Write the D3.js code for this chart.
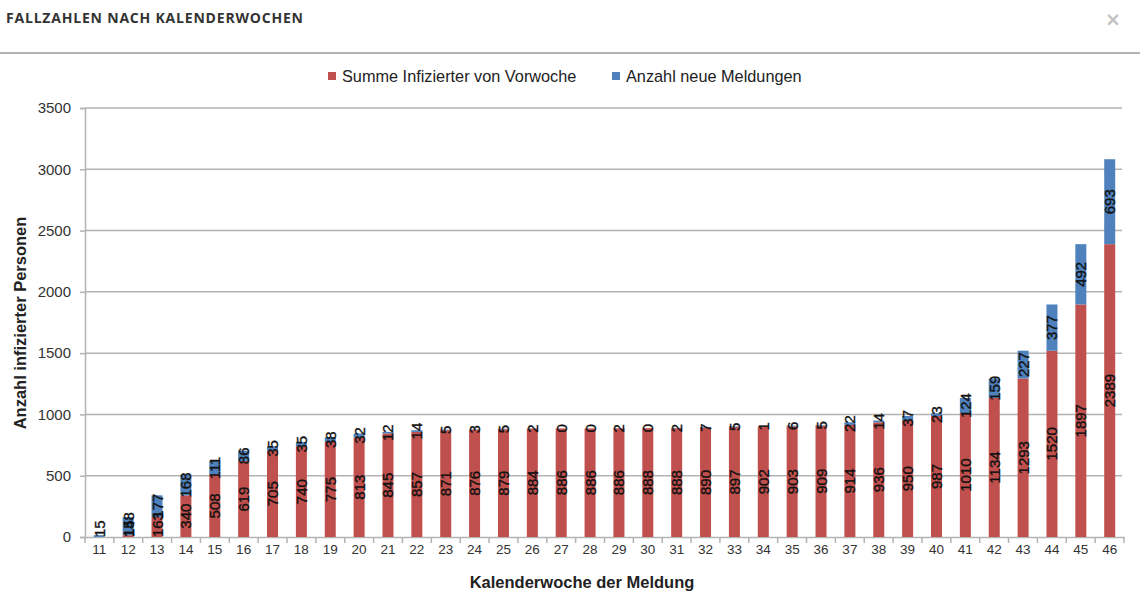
<!DOCTYPE html>
<html><head><meta charset="utf-8">
<script src="https://cdn.jsdelivr.net/npm/d3@7"></script>
<style>
html,body{margin:0;padding:0;background:#fff;}
svg{display:block;}
</style></head>
<body>
<svg id="chart" width="1140" height="611"></svg>
<script>
const weeks = ["11","12","13","14","15","16","17","18","19","20","21","22","23","24","25","26","27","28","29","30","31","32","33","34","35","36","37","38","39","40","41","42","43","44","45","46"];
const prevWeekSum = [0,15,163,340,508,619,705,740,775,813,845,857,871,876,879,884,886,886,886,888,888,890,897,902,903,909,914,936,950,987,1010,1134,1293,1520,1897,2389];
const newReports = [15,148,177,168,111,86,35,35,38,32,12,14,5,3,5,2,0,0,2,0,2,7,5,1,6,5,22,14,37,23,124,159,227,377,492,693];
const yTicks = [0,500,1000,1500,2000,2500,3000,3500];
const seriesNames = ["Summe Infizierter von Vorwoche","Anzahl neue Meldungen"];
const seriesKeys = ["prev","neu"];
const colors = ["#C0504D","#4F81BD"];

const svg = d3.select("#chart");
const W = 1140, H = 611;
const margin = {left:85, right:16, top:108, bottom:74};

// header
svg.append("text").attr("x",6).attr("y",23)
  .attr("font-family","'Open Sans', sans-serif").attr("font-weight",700)
  .attr("font-size",14).attr("letter-spacing","0.8px").attr("fill","#333")
  .text("FALLZAHLEN NACH KALENDERWOCHEN");
svg.append("text").attr("x",1113).attr("y",26).attr("text-anchor","middle")
  .attr("font-family","'DejaVu Sans', sans-serif").attr("font-weight",700).attr("font-size",19).attr("fill","#c2c2c2")
  .text("×");
svg.append("line").attr("x1",0).attr("x2",W).attr("y1",53).attr("y2",53)
  .attr("stroke","#9a9a9a").attr("stroke-width",1.5);

const rows = weeks.map((w,i)=>({week:w, prev:prevWeekSum[i], neu:newReports[i]}));
const stack = d3.stack().keys(seriesKeys)(rows);

const x = d3.scaleBand().domain(weeks).range([margin.left, 1124]).paddingInner(0.61).paddingOuter(0.3);
const y = d3.scaleLinear().domain([0,3500]).range([537,108]);

const font = "'Liberation Sans', Arial, sans-serif";

// gridlines
svg.append("g").selectAll("line").data(yTicks.filter(d=>d>0)).join("line")
  .attr("x1",margin.left).attr("x2",1122).attr("y1",d=>y(d)).attr("y2",d=>y(d))
  .attr("stroke","#b3b3b3").attr("stroke-width",1.5);

// y axis
const yAxis = svg.append("g").attr("transform",`translate(${margin.left},0)`)
  .call(d3.axisLeft(y).tickValues(yTicks).tickFormat(d3.format("d")).tickSize(5).tickPadding(9));
yAxis.select(".domain").attr("stroke","#b3b3b3").attr("stroke-width",1.5);
yAxis.selectAll(".tick line").attr("stroke","#b3b3b3").attr("stroke-width",1.5);
yAxis.selectAll("text").attr("font-family",font).attr("font-size",15).attr("fill","#333");

// x axis
const xAxis = svg.append("g").attr("transform",`translate(0,537)`)
  .call(d3.axisBottom(x).tickSize(0).tickPadding(7));
xAxis.select(".domain").attr("stroke","#b3b3b3").attr("stroke-width",1.5);
xAxis.selectAll("text").attr("font-family",font).attr("font-size",13.5).attr("fill","#333");
// category boundary ticks
const bounds = d3.range(weeks.length+1).map(i=>margin.left + i*((1124-margin.left)/weeks.length));
svg.append("g").selectAll("line").data(bounds).join("line")
  .attr("x1",d=>d).attr("x2",d=>d).attr("y1",537).attr("y2",543)
  .attr("stroke","#b3b3b3").attr("stroke-width",1.5);

// bars
const bw = 11;
stack.forEach((s,si)=>{
  svg.append("g").selectAll("rect").data(s).join("rect")
    .attr("x",d=>x(d.data.week)+x.bandwidth()/2-bw/2)
    .attr("width",bw)
    .attr("y",d=>y(d[1]))
    .attr("height",d=>Math.max(0,y(d[0])-y(d[1])))
    .attr("fill",colors[si]);
});

// labels
stack.forEach((s,si)=>{
  const g = svg.append("g");
  s.forEach(d=>{
    const v = d.data[seriesKeys[si]];
    if(si===0 && v===0) return;
    const cx = x(d.data.week)+x.bandwidth()/2;
    const label = String(v);
    const len = label.length*8.3;
    let cy = (y(d[0])+y(d[1]))/2;
    cy = Math.min(cy, 537 - len/2);
    g.append("text")
      .attr("transform",`translate(${cx+5.5},${cy}) rotate(-90)`)
      .attr("text-anchor","middle")
      .attr("font-family",font).attr("font-size",15).attr("fill","#111")
      .attr("stroke","#111").attr("stroke-width",0.35)
      .text(label);
  });
});

// axis titles
svg.append("text").attr("x",582).attr("y",588).attr("text-anchor","middle")
  .attr("font-family",font).attr("font-weight",700).attr("font-size",16.5).attr("fill","#222")
  .text("Kalenderwoche der Meldung");
svg.append("text").attr("transform","translate(26,323) rotate(-90)").attr("text-anchor","middle")
  .attr("font-family",font).attr("font-weight",700).attr("font-size",16.5).attr("fill","#222")
  .text("Anzahl infizierter Personen");

// legend
const legX = [328,612];
seriesNames.forEach((n,i)=>{
  svg.append("rect").attr("x",legX[i]).attr("y",72).attr("width",8).attr("height",8).attr("fill",colors[i]);
  svg.append("text").attr("x",legX[i]+14).attr("y",82)
    .attr("font-family",font).attr("font-size",16.3).attr("fill","#222").text(n);
});
</script>
</body></html>
